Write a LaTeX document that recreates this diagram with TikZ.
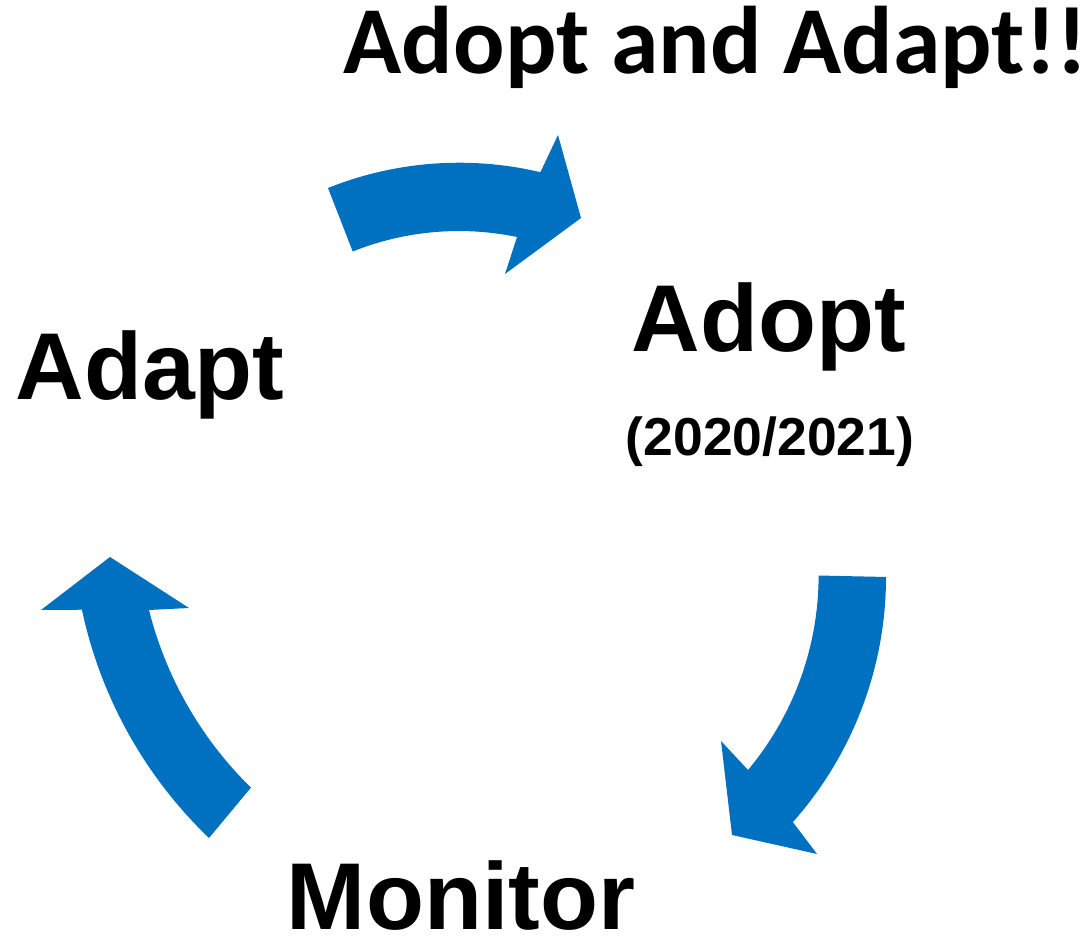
\documentclass[tikz,border=0pt]{standalone}
\usepackage{fontspec}
\setmainfont{Liberation Sans}
\newfontfamily\calibri{Carlito}
\usetikzlibrary{positioning}
\definecolor{arrowblue}{HTML}{0070C0}

\begin{document}
\begin{tikzpicture}[x=0.01cm,y=0.01cm,
  stage/.style={font=\bfseries\fontsize{27}{30}\selectfont,inner sep=0pt,anchor=base},
  cyclearrow/.style={fill=arrowblue}]

\useasboundingbox (0,0) rectangle (1091,940);

\node[stage,anchor=base west,font=\calibri\bfseries\fontsize{27.3}{30}\selectfont] (motto) at (343,866) {Adopt and Adapt!!};
\node[stage] (adopt)   at (769,588) {Adopt};
\node[stage,font=\bfseries\fontsize{15.2}{18}\selectfont] (years) at (770,484) {(2020/2021)};
\node[stage] (adapt)   at (150,540) {Adapt};
\node[stage] (monitor) at (461,10)  {Monitor};

\fill[cyclearrow] (328,752) arc[start angle=111.8,end angle=76.7,radius=3.53cm]
     -- (558,805) -- (581,722) -- (505,666) -- (517,703)
     arc[start angle=78.3,end angle=111.8,radius=2.86cm] -- cycle;
\fill[cyclearrow] (886,363) arc[start angle=0,end angle=-41.6,radius=3.69cm]
     -- (817,86) -- (732,105) -- (721,199) -- (748,170)
     arc[start angle=-39.9,end angle=0,radius=3.03cm] -- cycle;
\fill[cyclearrow] (209,102) arc[start angle=226.2,end angle=192,radius=4.44cm]
     -- (41,330) -- (110,383) -- (189,332) -- (149,330)
     arc[start angle=194.1,end angle=225.6,radius=3.77cm] -- cycle;

\end{tikzpicture}
\end{document}
